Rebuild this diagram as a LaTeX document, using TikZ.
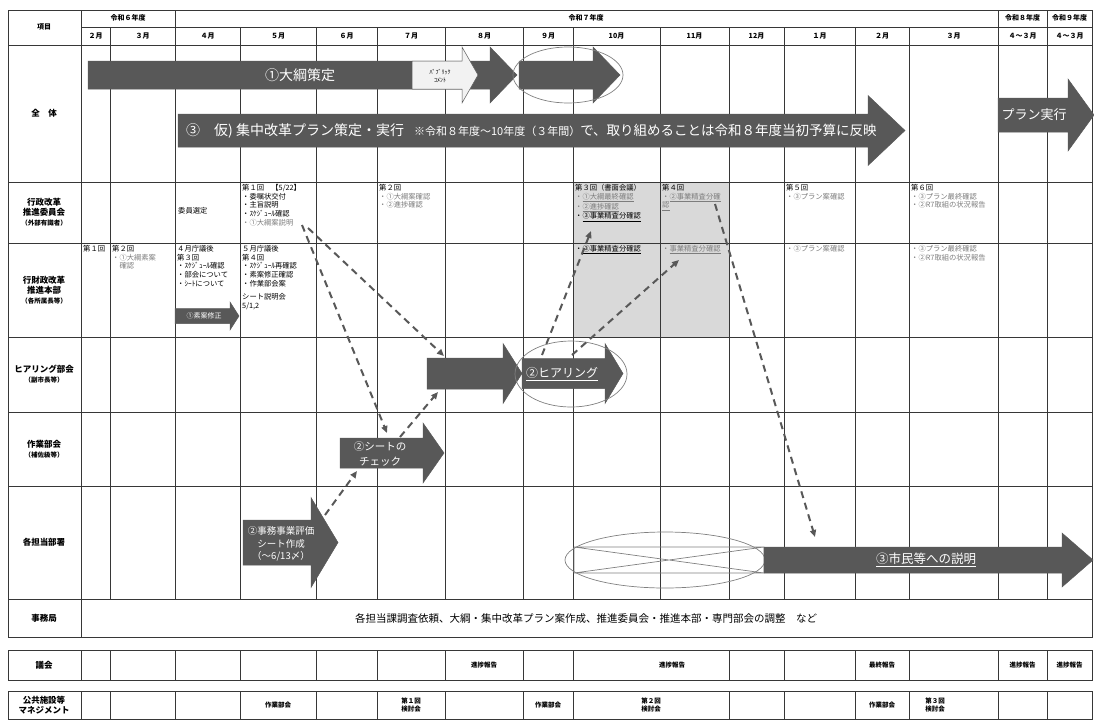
\documentclass[tikz,border=0pt]{standalone}
\usepackage{fontspec}
\setmainfont{Noto Sans CJK JP}
\usepackage{tikz}
\usetikzlibrary{arrows.meta}
\definecolor{grisfonce}{RGB}{88,88,88}
\definecolor{grisfond}{RGB}{217,217,217}
\definecolor{grispale}{RGB}{242,242,242}
\definecolor{gristexte}{RGB}{125,125,125}
\definecolor{trait}{RGB}{55,55,55}
% fleche pleine : style, x debut, x base pointe, x pointe, y milieu, demi-corps, demi-pointe
\newcommand{\flechebloc}[7]{%
  \filldraw[#1] (#2,#5-#6) -- (#3,#5-#6) -- (#3,#5-#7) -- (#4,#5)
    -- (#3,#5+#7) -- (#3,#5+#6) -- (#2,#5+#6) -- cycle;}
\newcommand{\grtxt}[1]{\textcolor{gristexte}{#1}}

\begin{document}
\begin{tikzpicture}[x=1pt, y=-1pt,
    grille/.style={draw=trait, line width=0.7pt},
    cellule/.style={anchor=north west, inner sep=0pt, align=left, font=\fontsize{7.3}{8.8}\selectfont},
    entete/.style={inner sep=0pt, font=\bfseries\fontsize{7}{8}\selectfont},
    libelle/.style={inner sep=0pt, align=center, font=\bfseries\fontsize{8.5}{10}\selectfont},
    blanc/.style={inner sep=0pt, align=center, text=white},
    sombre/.style={fill=grisfonce, draw=grisfonce, line width=0.5pt},
    bulle/.style={draw=gray, line width=0.7pt},
    tiret/.style={draw=grisfonce, line width=2pt, dash pattern=on 7pt off 5pt, -{Triangle[length=7pt, width=6pt]}},
    petit/.style={inner sep=0pt, align=center, font=\bfseries\fontsize{6.5}{8}\selectfont}]
  \useasboundingbox (0,0) rectangle (1094,720);
  % fond gris (octobre - novembre)
  \fill[grisfond] (573,182) rectangle (729,337);
  % grille
  \draw[grille] (8,10) rectangle (1092,637);
  \draw[grille] (81,27) -- (1092,27);
  \foreach \y in {45,182,243,337,412,486,599}
    \draw[grille] (8,\y) -- (1092,\y);
  \draw[grille] (81,10) -- (81,637);
  \foreach \x in {175,998,1047}
    \draw[grille] (\x,10) -- (\x,599);
  \foreach \x in {110,240,316,377,445,523,573,660,729,784,855,909}
    \draw[grille] (\x,27) -- (\x,599);
  % tableaux du bas
  \foreach \ya/\yb in {650/680,691/719} {
    \draw[grille] (8,\ya) rectangle (1092,\yb);
    \foreach \x in {81,110,175,240,316,377,445,523,573,729,784,855,909,998,1047}
      \draw[grille] (\x,\ya) -- (\x,\yb);
  }
  % en-tetes
  \node[entete] (koumoku) at (44,27) {項目};
  \node[entete] (r6) at (128,18) {令和６年度};
  \node[entete] (r7) at (586,18) {令和７年度};
  \node[entete] (r8) at (1022.5,18) {令和８年度};
  \node[entete] (r9) at (1069.5,18) {令和９年度};
  \foreach \xa/\xb/\mois in {81/110/２月,110/175/３月,175/240/４月,240/316/５月,316/377/６月,377/445/７月,445/523/８月,523/573/９月,573/660/10月,660/729/11月,729/784/12月,784/855/１月,855/909/２月,909/998/３月,998/1047/４～３月,1047/1092/４～３月}
    \node[entete] (m\xa) at ({(\xa+\xb)/2},36) {\mois};
  % colonne des intitules
  \node[libelle] (zentai) at (44,113) {全　体};
  \node[libelle] (iinkai) at (44,212) {行政改革\\推進委員会\\{\fontsize{6.5}{8}\selectfont（外部有識者）}};
  \node[libelle] (honbu) at (44,290) {行財政改革\\推進本部\\{\fontsize{6.5}{8}\selectfont（各所属長等）}};
  \node[libelle] (hearing) at (44,374) {ヒアリング部会\\{\fontsize{6.5}{8}\selectfont（副市長等）}};
  \node[libelle] (sagyou) at (44,449) {作業部会\\{\fontsize{6.5}{8}\selectfont（補佐級等）}};
  \node[libelle] (tantou) at (44,542) {各担当部署};
  \node[libelle] (jimu) at (44,618) {事務局};
  \node[libelle] (gikai) at (44,665) {議会};
  \node[libelle] (koukyou) at (44,705) {公共施設等\\マネジメント};
  % ligne "全体"
  \flechebloc{sombre}{88}{490}{517}{75}{14}{28}
  \flechebloc{fill=grispale, draw=grisfonce, line width=0.5pt}{412}{462}{478}{75}{14}{28}
  \flechebloc{sombre}{519}{593}{620}{75}{14}{28}
  \draw[bulle] (568,75) ellipse [x radius=55, y radius=28];
  \node[blanc, font=\fontsize{14}{17}\selectfont] (taikou) at (300,75) {①大綱策定};
  \node[inner sep=0pt, align=center, font=\fontsize{6}{8}\selectfont] (pubcom) at (440,76) {ﾊﾟﾌﾞﾘｯｸ\\ｺﾒﾝﾄ};
  \flechebloc{sombre}{178}{868}{905}{130.5}{16.5}{35}
  \node[blanc, anchor=west] (shuchu) at (186,130.5) {{\fontsize{14}{16}\selectfont ③　仮) 集中改革プラン策定・実行}\quad{\fontsize{11}{13}\selectfont ※令和８年度～10年度（３年間）}{\fontsize{13.5}{16}\selectfont で、取り組めることは令和８年度当初予算に反映}};
  \flechebloc{sombre}{998}{1068}{1094}{115}{17}{36}
  \node[blanc, font=\fontsize{13}{15}\selectfont] (jikkou) at (1034,115) {プラン実行};
  % ligne "委員会"
  \node[cellule] (c1) at (178,207) {委員選定};
  \node[cellule] (c2) at (242,184) {第１回　【5/22】\\・委嘱状交付\\・主旨説明\\・ｽｹｼﾞｭｰﾙ確認\\\grtxt{・①大綱案説明}};
  \node[cellule] (c3) at (379,184) {第２回\\\grtxt{・①大綱案確認}\\\grtxt{・②進捗確認}};
  \node[cellule] (c4) at (575,184) {第３回（書面会議）\\\grtxt{・\underline{①大綱最終確認}}\\\grtxt{・\underline{②進捗確認}}\\・\underline{③事業精査分確認}};
  \node[cellule] (c5) at (662,184) {第４回\\\grtxt{・\underline{②事業精査分確}}\\\grtxt{\underline{認}}};
  \node[cellule] (c6) at (786,184) {第５回\\\grtxt{・③プラン案確認}};
  \node[cellule] (c7) at (911,184) {第６回\\\grtxt{・③プラン最終確認}\\\grtxt{・②R7取組の状況報告}};
  % ligne "本部"
  \node[cellule] (h1) at (83,245) {第１回};
  \node[cellule] (h2) at (112,245) {第２回\\\grtxt{・①大綱素案}\\\grtxt{　確認}};
  \node[cellule] (h3) at (177,245) {４月庁議後\\第３回\\・ｽｹｼﾞｭｰﾙ確認\\・部会について\\・ｼｰﾄについて};
  \node[cellule] (h4) at (242,245) {５月庁議後\\第４回\\・ｽｹｼﾞｭｰﾙ再確認\\・素案修正確認\\・作業部会案\\[4pt]シート説明会\\5/1,2};
  \node[cellule] (h5) at (575,245) {・\underline{③事業精査分確認}};
  \node[cellule] (h6) at (662,245) {\grtxt{・\underline{事業精査分確認}}};
  \node[cellule] (h7) at (786,245) {\grtxt{・③プラン案確認}};
  \node[cellule] (h8) at (911,245) {\grtxt{・③プラン最終確認}\\\grtxt{・②R7取組の状況報告}};
  \flechebloc{sombre}{175}{230}{239}{316}{7.5}{14}
  \node[blanc, font=\fontsize{7}{8}\selectfont] (shusei) at (204,316) {①素案修正};
  % ligne "ヒアリング"
  \flechebloc{sombre}{427}{503}{522}{373.5}{15.5}{30}
  \flechebloc{sombre}{522}{605}{623}{373.5}{15}{30}
  \draw[bulle] (571,374) ellipse [x radius=56, y radius=33];
  \node[blanc, font=\fontsize{12}{14}\selectfont] (hear) at (562,374) {\underline{②ヒアリング}};
  % ligne "作業部会"
  \flechebloc{sombre}{340}{423}{444}{453}{15}{30}
  \node[blanc, font=\fontsize{10.5}{15}\selectfont] (check) at (380,454) {②シートの\\チェック};
  % ligne "各担当部署"
  \flechebloc{sombre}{243}{311}{338}{542.5}{22.5}{45}
  \node[blanc, font=\fontsize{9.5}{12.5}\selectfont] (sheet) at (281,544) {②事務事業評価\\シート作成\\（～6/13〆）};
  \draw[bulle] (665,560) ellipse [x radius=100, y radius=28];
  \draw[bulle] (574,547) rectangle (764,573) (574,547) -- (764,573) (574,573) -- (764,547);
  \flechebloc{sombre}{764}{1062}{1093}{560}{13}{27}
  \node[blanc, font=\fontsize{12.5}{14}\selectfont] (shimin) at (926,560) {\underline{③市民等への説明}};
  % ligne "事務局"
  \node[inner sep=0pt, font=\fontsize{10.5}{12}\selectfont] (chousei) at (586,618) {各担当課調査依頼、大綱・集中改革プラン案作成、推進委員会・推進本部・専門部会の調整　など};
  % 議会
  \node[petit] (g1) at (484,665) {進捗報告};
  \node[petit] (g2) at (672,665) {進捗報告};
  \node[petit] (g3) at (882,665) {最終報告};
  \node[petit] (g4) at (1022.5,665) {進捗報告};
  \node[petit] (g5) at (1069.5,665) {進捗報告};
  % 公共施設等マネジメント
  \node[petit] (k1) at (278,705) {作業部会};
  \node[petit] (k2) at (411,705) {第１回\\検討会};
  \node[petit] (k3) at (548,705) {作業部会};
  \node[petit] (k4) at (651,705) {第２回\\検討会};
  \node[petit] (k5) at (882,705) {作業部会};
  \node[petit] (k6) at (935,705) {第３回\\検討会};
  % fleches pointillees
  \coordinate (p1) at (302,225);
  \coordinate (p2) at (308,228);
  \coordinate (q1) at (387,433);
  \coordinate (q2) at (444,356);
  \coordinate (p3) at (325,515);
  \coordinate (q3) at (357,471);
  \coordinate (p4) at (400,437);
  \coordinate (q4) at (438,392);
  \coordinate (p5) at (542,355);
  \coordinate (q5) at (591,231);
  \coordinate (p6) at (572,355);
  \coordinate (q6) at (679,260);
  \coordinate (p7) at (715,204);
  \coordinate (q7) at (815,537);
  \foreach \a/\b in {p1/q1,p2/q2,p3/q3,p4/q4,p5/q5,p6/q6,p7/q7}
    \draw[tiret] (\a) -- (\b);
\end{tikzpicture}
\end{document}
